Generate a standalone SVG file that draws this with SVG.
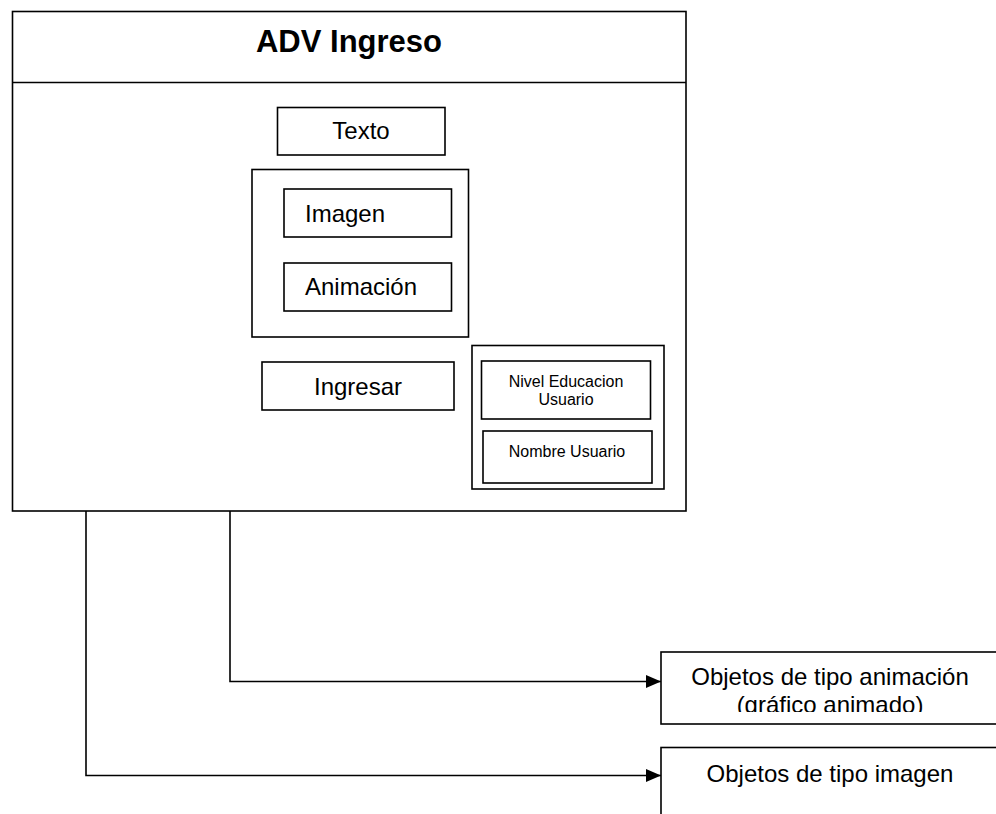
<svg xmlns="http://www.w3.org/2000/svg" width="996" height="814" viewBox="0 0 996 814">
  <style>
    .box { fill: #fff; stroke: #000; stroke-width: 1.6; }
    .line { fill: none; stroke: #000; stroke-width: 1.6; }
    text { font-family: "Liberation Sans", Arial, sans-serif; fill: #000; }
    .t24 { font-size: 24px; }
    .t16 { font-size: 16px; }
    .mid { text-anchor: middle; }
  </style>
  <defs>
    <marker id="arrow" markerWidth="16" markerHeight="14" refX="15" refY="7" orient="auto" markerUnits="userSpaceOnUse">
      <path d="M0,0.5 L15,7 L0,13.5 Z" fill="#000"/>
    </marker>
    <clipPath id="clipAnim">
      <rect x="661" y="652" width="340" height="60"/>
    </clipPath>
  </defs>

  <rect width="996" height="814" fill="#fff"/>

  <!-- screen frame with header -->
  <g id="adv-ingreso">
    <rect class="box" x="12.5" y="11.5" width="673.5" height="499.5"/>
    <line class="line" x1="12.5" y1="82.5" x2="686" y2="82.5"/>
    <text x="349" y="52" class="mid" font-size="31" font-weight="bold">ADV Ingreso</text>
  </g>

  <g id="texto">
    <rect class="box" x="277.5" y="107.5" width="167.5" height="47.5"/>
    <text x="361" y="139" class="t24 mid">Texto</text>
  </g>

  <g id="media-group">
    <rect class="box" x="252" y="169.5" width="216.5" height="167.5"/>
  </g>

  <g id="imagen">
    <rect class="box" x="284" y="189" width="167.5" height="48"/>
    <text x="305" y="222" class="t24">Imagen</text>
  </g>

  <g id="animacion">
    <rect class="box" x="284" y="263" width="167.5" height="48"/>
    <text x="305" y="295" class="t24">Animación</text>
  </g>

  <g id="ingresar">
    <rect class="box" x="262" y="362" width="192" height="48"/>
    <text x="358" y="395" class="t24 mid">Ingresar</text>
  </g>

  <g id="user-group">
    <rect class="box" x="472" y="345.5" width="192" height="143.5"/>
  </g>

  <g id="nivel-educacion">
    <rect class="box" x="481.5" y="361" width="169" height="58"/>
    <text x="566" y="387" class="t16 mid">Nivel Educacion</text>
    <text x="566" y="405" class="t16 mid">Usuario</text>
  </g>

  <g id="nombre-usuario">
    <rect class="box" x="483" y="431" width="169" height="52"/>
    <text x="567" y="457" class="t16 mid">Nombre Usuario</text>
  </g>

  <g id="objetos-animacion">
    <rect class="box" x="661" y="652" width="345" height="72"/>
    <g clip-path="url(#clipAnim)">
      <text x="830" y="685" class="t24 mid">Objetos de tipo animación</text>
      <text x="830" y="713" class="t24 mid">(gráfico animado)</text>
    </g>
  </g>

  <g id="objetos-imagen">
    <rect class="box" x="661" y="747.5" width="345" height="80"/>
    <text x="830" y="782" class="t24 mid">Objetos de tipo imagen</text>
  </g>

  <!-- connectors -->
  <g id="connectors">
    <path class="line" d="M230,511 V681.5 H661" marker-end="url(#arrow)"/>
    <path class="line" d="M86,511 V775.5 H661" marker-end="url(#arrow)"/>
  </g>
</svg>
